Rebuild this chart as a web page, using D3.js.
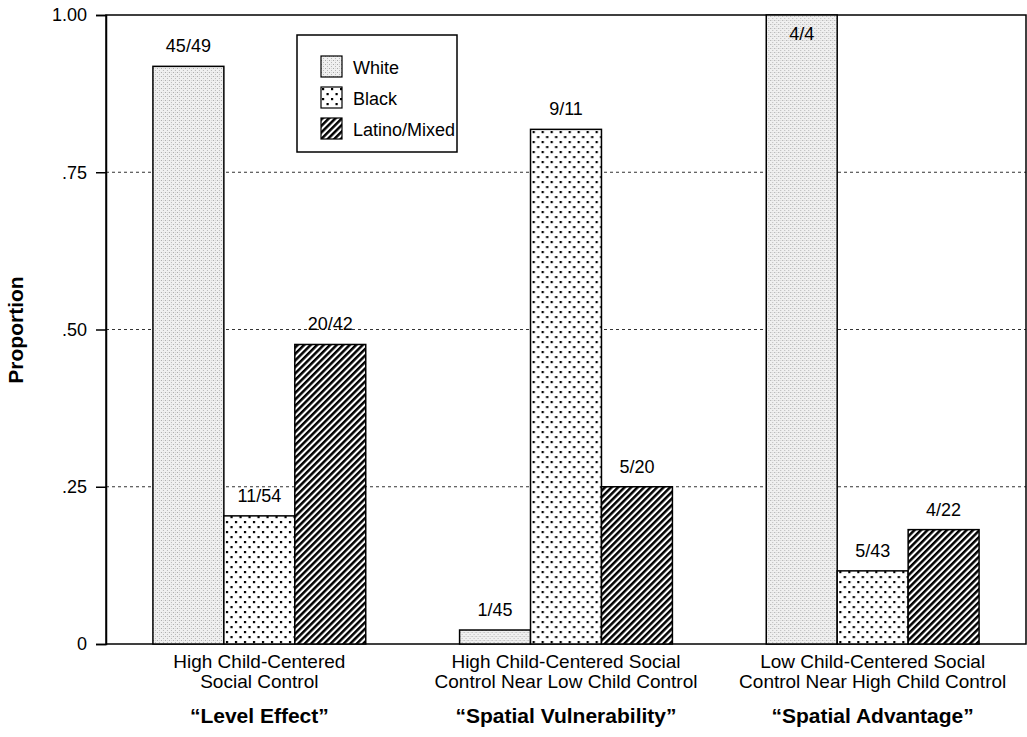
<!DOCTYPE html>
<html>
<head>
<meta charset="utf-8">
<script src="https://cdn.jsdelivr.net/npm/d3@7"></script>
<style>
  body { margin: 0; background: #fff; }
  svg { display: block; font-family: "Liberation Sans", Arial, sans-serif; }
</style>
</head>
<body>
<div id="container"></div>
<script>
// chart data
const groupLines = [
  ["High Child-Centered", "Social Control"],
  ["High Child-Centered Social", "Control Near Low Child Control"],
  ["Low Child-Centered Social", "Control Near High Child Control"],
];
const groupTitles = ["\u201CLevel Effect\u201D", "\u201CSpatial Vulnerability\u201D", "\u201CSpatial Advantage\u201D"];
const series = ["White", "Black", "Latino/Mixed"];
const numerators = [[45, 11, 20], [1, 9, 5], [4, 5, 4]];
const denominators = [[49, 54, 42], [45, 11, 20], [4, 43, 22]];
const yTicks = [0, 0.25, 0.5, 0.75, 1];
const yTickLabels = ["0", ".25", ".50", ".75", "1.00"];

const width = 1027, height = 737;
const plot = { left: 106, right: 1026, top: 15, bottom: 644 };

const svg = d3.select("#container").append("svg")
  .attr("width", width)
  .attr("height", height);

const defs = svg.append("defs");

// light grey stipple for White
const pWhite = defs.append("pattern").attr("id", "pat-white")
  .attr("patternUnits", "userSpaceOnUse").attr("width", 4).attr("height", 4);
pWhite.append("rect").attr("width", 4).attr("height", 4).attr("fill", "#f0f0f0");
pWhite.append("rect").attr("x", 0).attr("y", 0).attr("width", 1).attr("height", 1).attr("fill", "#a8a8a8");
pWhite.append("rect").attr("x", 2).attr("y", 2).attr("width", 1).attr("height", 1).attr("fill", "#b8b8b8");
pWhite.append("rect").attr("x", 2).attr("y", 0).attr("width", 1).attr("height", 1).attr("fill", "#d8d8d8");

// dots for Black
const pBlack = defs.append("pattern").attr("id", "pat-black")
  .attr("patternUnits", "userSpaceOnUse").attr("width", 9).attr("height", 10);
pBlack.append("rect").attr("width", 9).attr("height", 10).attr("fill", "#fff");
pBlack.append("rect").attr("x", 1).attr("y", 1).attr("width", 2.2).attr("height", 2.2).attr("fill", "#000");
pBlack.append("rect").attr("x", 5.5).attr("y", 6).attr("width", 2.2).attr("height", 2.2).attr("fill", "#000");

// diagonal stripes for Latino/Mixed
const pLat = defs.append("pattern").attr("id", "pat-latino")
  .attr("patternUnits", "userSpaceOnUse").attr("width", 4.6).attr("height", 10)
  .attr("patternTransform", "rotate(45)");
pLat.append("rect").attr("width", 4.6).attr("height", 10).attr("fill", "#fff");
pLat.append("rect").attr("width", 2.5).attr("height", 10).attr("fill", "#000");

const fills = ["url(#pat-white)", "url(#pat-black)", "url(#pat-latino)"];

const x0 = d3.scaleBand()
  .domain(d3.range(groupLines.length))
  .range([plot.left, plot.right])
  .paddingInner(0.306)
  .paddingOuter(0.153);
const x1 = d3.scaleBand()
  .domain(d3.range(series.length))
  .range([0, x0.bandwidth()]);
const y = d3.scaleLinear().domain([0, 1]).range([plot.bottom, plot.top]);

// dashed grid
svg.append("g").selectAll("line")
  .data(yTicks.filter((t) => t > 0 && t < 1))
  .enter().append("line")
  .attr("x1", plot.left).attr("x2", plot.right)
  .attr("y1", (d) => y(d)).attr("y2", (d) => y(d))
  .attr("stroke", "#333").attr("stroke-width", 1)
  .attr("stroke-dasharray", "3,3");

// frame
svg.append("rect")
  .attr("x", plot.left).attr("y", plot.top)
  .attr("width", plot.right - plot.left).attr("height", plot.bottom - plot.top)
  .attr("fill", "none").attr("stroke", "#000").attr("stroke-width", 1.5);

// bars
const rows = [];
numerators.forEach((row, g) => row.forEach((n, s) => {
  rows.push({ g, s, n, d: denominators[g][s], v: n / denominators[g][s] });
}));

const bars = svg.append("g").selectAll("g")
  .data(rows).enter().append("g")
  .attr("transform", (d) => `translate(${x0(d.g)},0)`);

bars.append("rect")
  .attr("x", (d) => x1(d.s))
  .attr("y", (d) => y(d.v))
  .attr("width", x1.bandwidth())
  .attr("height", (d) => y(0) - y(d.v))
  .attr("fill", (d) => fills[d.s])
  .attr("stroke", "#000").attr("stroke-width", 1.5);

bars.append("text")
  .attr("x", (d) => x1(d.s) + x1.bandwidth() / 2)
  .attr("y", (d) => (y(d.v) - 14 < 30 ? y(d.v) + 25 : y(d.v) - 14))
  .attr("text-anchor", "middle")
  .attr("font-size", 18)
  .text((d) => `${d.n}/${d.d}`);

// y axis
const yAxis = d3.axisLeft(y)
  .tickValues(yTicks)
  .tickFormat((d, i) => yTickLabels[i])
  .tickSize(10)
  .tickPadding(9);
const ya = svg.append("g")
  .attr("transform", `translate(${plot.left},0)`)
  .call(yAxis);
ya.select(".domain").attr("stroke-width", 1.5);
ya.selectAll(".tick line").attr("stroke-width", 1.5);
ya.selectAll(".tick text")
  .attr("font-size", 18)
  .attr("font-family", "Liberation Sans, Arial, sans-serif")
  .attr("fill", "#000");

svg.append("text")
  .attr("transform", `translate(23,330) rotate(-90)`)
  .attr("text-anchor", "middle")
  .attr("font-size", 21)
  .attr("font-weight", "bold")
  .text("Proportion");

// category labels
const cats = svg.append("g").selectAll("g")
  .data(groupLines).enter().append("g")
  .attr("transform", (d, i) => `translate(${x0(i) + x0.bandwidth() / 2},0)`);
cats.selectAll("text.line")
  .data((d) => d).enter().append("text")
  .attr("class", "line")
  .attr("y", (d, i) => 668 + i * 20)
  .attr("text-anchor", "middle")
  .attr("font-size", 19)
  .text((d) => d);
cats.append("text")
  .attr("y", 723)
  .attr("text-anchor", "middle")
  .attr("font-size", 21)
  .attr("font-weight", "bold")
  .text((d, i) => groupTitles[i]);

// legend
const legend = svg.append("g").attr("transform", "translate(297,35)");
legend.append("rect")
  .attr("width", 160).attr("height", 117)
  .attr("fill", "#fff").attr("stroke", "#000").attr("stroke-width", 1.5);
const li = legend.selectAll("g.item")
  .data(series).enter().append("g")
  .attr("class", "item")
  .attr("transform", (d, i) => `translate(24,${21 + i * 31})`);
li.append("rect")
  .attr("width", 21).attr("height", 21)
  .attr("fill", (d, i) => fills[i])
  .attr("stroke", "#000").attr("stroke-width", 1.2);
li.append("text")
  .attr("x", 32).attr("y", 18)
  .attr("font-size", 18)
  .text((d) => d);
</script>
</body>
</html>
